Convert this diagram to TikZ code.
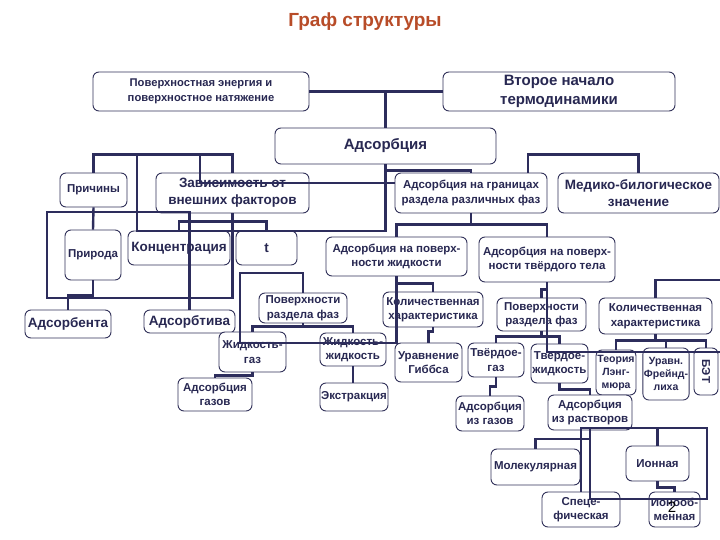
\documentclass[tikz,border=0pt]{standalone}
\usepackage{fontspec}
\setmainfont{Liberation Sans}
\definecolor{boxc}{RGB}{50,50,90}
\definecolor{connc}{RGB}{45,45,92}
\definecolor{txtc}{RGB}{40,40,82}
\definecolor{titlec}{RGB}{184,76,40}
\begin{document}
\begin{tikzpicture}[x=1pt,y=-1pt,
  box/.style={draw=boxc, line width=0.9pt, rounded corners=6pt, fill=white, align=center, inner sep=1pt, text=txtc},
  wh/.style 2 args={minimum width=#1pt, minimum height=#2pt},
  fa/.style={font=\bfseries\fontsize{11.5pt}{14.5pt}\selectfont},
  fb/.style={font=\bfseries\fontsize{13.5pt}{17pt}\selectfont},
  fc/.style={font=\bfseries\fontsize{15pt}{19pt}\selectfont},
  fs/.style={font=\bfseries\fontsize{10.5pt}{13pt}\selectfont},
  fp/.style={font=\bfseries\fontsize{11.2pt}{15pt}\selectfont},
  conn/.style={draw=connc, line width=2.4pt}]
\fill[white] (0,0) rectangle (720,540);
\useasboundingbox (0,0) rectangle (720,540);
% title
\node[text=titlec, font=\bfseries\fontsize{19pt}{22pt}\selectfont] (title) at (365,22) {Граф структуры};
% boxes
\node[box, fp, wh={216}{39}] (pe) at (201,91.5) {Поверхностная энергия и\\поверхностное натяжение};
\node[box, fc, wh={232}{39}] (vt) at (559,91.5) {Второе начало\\термодинамики};
\node[box, fc, wh={221}{36}] (ads) at (385.5,146) {Адсорбция};
\node[box, fa, wh={67}{34}] (prich) at (93.5,190) {Причины};
\node[box, fb, wh={153}{40}] (zav) at (232.5,193) {Зависимость от\\внешних факторов};
\node[box, fa, wh={152}{40}] (gran) at (471,193) {Адсорбция на границах\\раздела различных фаз};
\node[box, fb, wh={161}{40}] (med) at (638.5,193) {Медико-билогическое\\значение};
\node[box, fa, wh={56}{50}] (prir) at (93,255) {Природа};
\node[box, fb, wh={102}{34}] (konc) at (179,248) {Концентрация};
\node[box, fb, wh={61}{34}] (tt) at (266.5,248) {t};
\node[box, fa, wh={141}{39}] (zhid) at (396.5,256.5) {Адсорбция на поверх-\\ности жидкости};
\node[box, fa, wh={136}{45}] (tverd) at (547,259.5) {Адсорбция на поверх-\\ности твёрдого тела};
\node[box, fb, wh={86}{28}] (benta) at (68,324) {Адсорбента};
\node[box, fb, wh={91}{23}] (btiva) at (189.5,321.5) {Адсорбтива};
\node[box, fa, wh={88}{30}] (prf1) at (303,308) {Поверхности\\раздела фаз};
\node[box, fa, wh={100}{35}] (kol1) at (433,309.5) {Количественная\\характеристика};
\node[box, fa, wh={89}{33}] (prf2) at (541.5,314.5) {Поверхности\\раздела фаз};
\node[box, fa, wh={113}{36}] (kol2) at (655.5,316) {Количественная\\характеристика};
\node[box, fa, wh={67}{40}] (zg) at (252.5,352) {Жидкость-\\газ};
\node[box, fa, wh={66}{33}] (zz) at (353,349.5) {Жидкость-\\жидкость};
\node[box, fa, wh={67}{39}] (gibbs) at (428.5,362.5) {Уравнение\\Гиббса};
\node[box, fa, wh={56}{34}] (tg) at (496,360) {Твёрдое-\\газ};
\node[box, fa, wh={57}{39}] (tz) at (559.5,363.5) {Твердое-\\жидкость};
\node[box, fs, wh={40}{45}] (lang) at (616,372.5) {Теория\\Лэнг-\\мюра};
\node[box, fs, wh={46}{52}] (freund) at (666,374) {Уравн.\\Фрейнд-\\лиха};
\node[box, fa, wh={24}{47}] (bet) at (706,371.5) {\rotatebox{-90}{БЭТ}};
\node[box, fa, wh={74}{33}] (adsgaz) at (215,394.5) {Адсорбция\\газов};
\node[box, fa, wh={68}{28}] (ekstr) at (354,397) {Экстракция};
\node[box, fa, wh={68}{35}] (izgaz) at (490,413.5) {Адсорбция\\из газов};
\node[box, fa, wh={84}{35}] (izrast) at (590,412.5) {Адсорбция\\из растворов};
\node[box, fa, wh={89}{36}] (mol) at (535.5,467) {Молекулярная};
\node[box, fa, wh={63}{35}] (ion) at (657.5,463.5) {Ионная};
\node[box, fa, wh={78}{35}] (spec) at (581,509.5) {Спеце-\\фическая};
\node[box, fa, wh={51}{35}] (ionobm) at (674.5,509.5) {Ионооб-\\менная};
% free ends at the right edge
\coordinate (redgeA) at (720,352);
\coordinate (redgeB) at (720,280);
% connectors
\draw[conn] (pe.east) -- (vt.west);
\draw[conn] (pe.east -| ads.north) -- (ads.north);
\draw[conn] (ads.south) -- ++(0,6) -| (gran.north);
\draw[conn] (ads.south) |- (137,231) -- (137,155);
\draw[conn] (prich.north) -- ++(0,-18) -| (zav.north);
\draw[conn] (200,155) |- (gran.west |- 0,183);
\draw[conn] (gran.north -| 528,0) -- ++(0,-18) -| (med.north);
\draw[conn] (gran.south) -- ++(0,12);
\draw[conn] (zhid.north) -- ++(0,-12) -| (tverd.north);
\draw[conn] (zav.south) |- (47,298) |- (btiva.north |- 0,212) -- (btiva.north);
\draw[conn] (prich.south) -- (prir.north);
\draw[conn] (prir.south) -- ++(0,15) -| (benta.north);
\draw[conn] (konc.north) -- ++(0,-9) -| (tt.north);
\draw[conn] (zhid.south) |- (240,343) |- (prf1.north |- 0,273) -- (prf1.north);
\draw[conn] (zhid.south) -- ++(0,7) -| (kol1.north);
\draw[conn] (kol1.south) -- ++(0,4) -| (gibbs.north);
\draw[conn] (prf1.south) -- ++(0,4);
\draw[conn] (zg.north) -- ++(0,-5) -| (zz.north);
\draw[conn] (zg.south) -- ++(0,3) -| (adsgaz.north);
\draw[conn] (zz.south) -- (zz.south |- ekstr.north);
\draw[conn] (tverd.south) |- (redgeA);
\draw[conn] (tverd.south) -- ++(0,7) -| (prf2.north);
\draw[conn] (kol2.north) |- (redgeB);
\draw[conn] (kol2.south) -- ++(0,7);
\draw[conn] (lang.north) -- ++(0,-9) -| (bet.north);
\draw[conn] (freund.north) -- ++(0,-7);
\draw[conn] (prf2.south) -- ++(0,6);
\draw[conn] (tg.north) -- ++(0,-6) -| (tz.north);
\draw[conn] (tg.south) -- ++(0,9) -| (izgaz.north);
\draw[conn] (tz.south) -- ++(0,6) -| (izrast.north);
\draw[conn] (spec.north) -- (581,428) -- (707,428) -- (707,499) -- (590,499) -- (590,428);
\draw[conn] (ion.north) -- (ion.north |- 0,428);
\draw[conn] (mol.north) |- (590,439);
\draw[conn] (ion.south) -- ++(0,6) -| (ionobm.north);
% slide number
\node[text=black, font=\fontsize{15pt}{18pt}\selectfont] (pnum) at (672,507) {2};
\end{tikzpicture}
\end{document}
